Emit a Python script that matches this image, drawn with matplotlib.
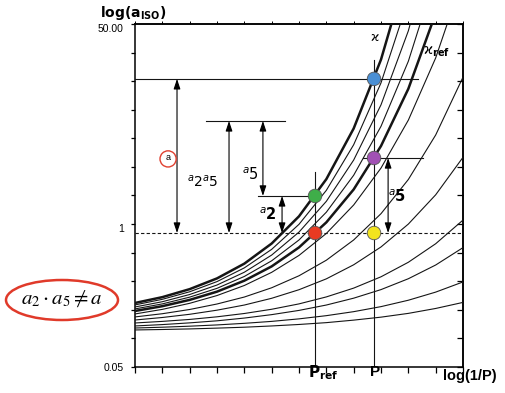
import matplotlib
matplotlib.use('Agg')
import matplotlib.pyplot as plt
from matplotlib.patches import Ellipse

plt.rcParams['font.family'] = ['Liberation Sans', 'DejaVu Sans']

# ---- data (x in tick units of log(1/P), y = log10(a_ISO)) ----
x_grid = [0, 1, 2, 3, 4, 5, 6, 7, 8, 9, 10, 11, 12]

chi_curve = [-0.690, -0.639, -0.569, -0.475, -0.346, -0.170, 0.068, 0.393, 0.836, 1.439, 2.258]
chi_ref_curve = [-0.760, -0.718, -0.663, -0.591, -0.495, -0.370, -0.204, 0.015, 0.303, 0.683, 1.183, 1.843, 2.712]
thin_curves = [
    [-0.707, -0.658, -0.592, -0.503, -0.383, -0.221, -0.002, 0.295, 0.694, 1.235, 1.965],
    [-0.725, -0.679, -0.616, -0.533, -0.421, -0.271, -0.070, 0.199, 0.560, 1.043, 1.690, 2.558],
    [-0.742, -0.698, -0.639, -0.562, -0.458, -0.321, -0.139, 0.104, 0.427, 0.855, 1.424, 2.179],
    [-0.786, -0.746, -0.693, -0.625, -0.537, -0.422, -0.274, -0.082, 0.167, 0.490, 0.909, 1.453, 2.157],
    [-0.812, -0.784, -0.747, -0.699, -0.638, -0.557, -0.452, -0.316, -0.139, 0.091, 0.390, 0.779, 1.285],
    [-0.839, -0.817, -0.789, -0.753, -0.708, -0.649, -0.574, -0.479, -0.356, -0.200, 0.000, 0.256, 0.584],
    [-0.865, -0.851, -0.834, -0.811, -0.782, -0.745, -0.698, -0.637, -0.560, -0.461, -0.334, -0.172, 0.035],
    [-0.891, -0.879, -0.864, -0.846, -0.822, -0.792, -0.755, -0.708, -0.648, -0.573, -0.478, -0.358, -0.206],
    [-0.909, -0.902, -0.893, -0.882, -0.868, -0.851, -0.829, -0.801, -0.766, -0.722, -0.666, -0.595, -0.506],
    [-0.926, -0.922, -0.917, -0.910, -0.902, -0.891, -0.878, -0.862, -0.840, -0.814, -0.781, -0.738, -0.685],
]

x_pref = 6.586
x_p = 8.745
log_a = 1.270       # blue point level
log_a2a5 = 0.902    # upper bracket level
log_a2 = 0.246      # green point level
log_a5_top = 0.578  # purple point level
log_ref = -0.078    # dashed reference level

points_x = [x_p, x_p, x_pref, x_pref, x_p]
points_y = [log_a, log_a5_top, log_a2, log_ref, log_ref]
points_c = ['#4a8fd4', '#a150b4', '#3fae49', '#e83a22', '#f2e41e']

ytick_vals = [-1.25, -1.0, -0.75, -0.5, -0.25, 0.0, 0.25, 0.5, 0.75, 1.0, 1.25, 1.5, 1.75]
ytick_labels = ['0.05', '', '', '', '', '1', '', '', '', '', '', '', '50.00']

# ---- figure ----
fig = plt.figure(figsize=(5.05, 3.93), dpi=100)
ax = fig.add_axes([135/505, 1-367/393, (463-135)/505, (367-24)/393])
ax.set_xlim(0, 12)
ax.set_ylim(-1.25, 1.75)

lc = '#151515'
ax.plot(x_grid[:len(chi_curve)], chi_curve, color=lc, lw=1.8, zorder=3)
ax.plot(x_grid[:len(chi_ref_curve)], chi_ref_curve, color=lc, lw=1.8, zorder=3)
for c in thin_curves:
    ax.plot(x_grid[:len(c)], c, color=lc, lw=0.8, zorder=3)

# reference lines
ax.plot([x_pref, x_pref], [-1.25, 0.456], color=lc, lw=0.8, zorder=3)
ax.plot([x_p, x_p], [-1.25, 1.436], color=lc, lw=0.8, zorder=3)
ax.plot([0, 10.35], [log_a, log_a], color=lc, lw=0.8, zorder=3)
ax.plot([2.60, 5.49], [log_a2a5, log_a2a5], color=lc, lw=0.8, zorder=3)
ax.plot([4.50, x_pref], [log_a2, log_a2], color=lc, lw=0.8, zorder=3)
ax.plot([8.34, 10.54], [log_a5_top, log_a5_top], color=lc, lw=0.8, zorder=3)
ax.plot([0, 12], [log_ref, log_ref], color=lc, lw=0.8, ls=(0, (3, 2)), zorder=3)

def darrow(x, y1, y2):
    ax.annotate('', xy=(x, y1), xytext=(x, y2),
                arrowprops=dict(arrowstyle='<|-|>,head_length=0.6,head_width=0.2', color='black', lw=0.8,
                                mutation_scale=10, shrinkA=0, shrinkB=0), zorder=4)

darrow(1.537, log_a, log_ref)
darrow(3.44, log_a2a5, log_ref)
darrow(4.68, log_a2a5, log_a2)
darrow(5.38, log_a2, log_ref)
darrow(9.26, log_a5_top, log_ref)

ax.scatter(points_x, points_y, s=95, c=points_c, edgecolors='#555555', linewidths=0.6, zorder=6)

# labels inside
ax.scatter([1.21], [0.570], s=135, facecolors='none', edgecolors='#e04030', linewidths=1.0, zorder=5)
ax.text(1.21, 0.578, 'a', fontsize=6.5, ha='center', va='center', zorder=6)
ax.text(2.49, 0.369, r'$^{a}2^{a}5$', fontsize=10, ha='center', va='center')
ax.text(4.21, 0.430, r'$^{a}5$', fontsize=10.5, ha='center', va='center')
ax.text(4.87, 0.080, r'$^{a}\mathbf{2}$', fontsize=10.5, ha='center', va='center')
ax.text(9.59, 0.237, r'$^{a}\mathbf{5}$', fontsize=10.5, ha='center', va='center')
ax.text(8.78, 1.628, 'ϰ', fontsize=9, ha='center', va='center', family='DejaVu Sans')
ax.text(10.55, 1.506, r'ϰ$_{\mathbf{ref}}$', fontsize=10, ha='left', va='center', family='DejaVu Sans')

# axes styling
ax.set_yticks(ytick_vals)
ax.set_yticklabels(ytick_labels, fontsize=7.5)
for lab, val in zip(ax.get_yticklabels(), ytick_vals):
    if val >= 0:
        lab.set_verticalalignment('top')
ax.set_xticks(x_grid)
ax.set_xticklabels([])
ax.tick_params(axis='y', which='major', direction='out', length=3, width=0.9, pad=5, left=True, right=False)
ax.tick_params(axis='x', which='major', direction='out', length=4, width=0.9, top=False)
ax_r = ax.secondary_yaxis('right')
ax_r.set_yticks(ytick_vals)
ax_r.set_yticklabels([])
ax_r.tick_params(direction='in', length=4, width=0.9)
ax_t = ax.secondary_xaxis('top')
ax_t.set_xticks(x_grid)
ax_t.set_xticklabels([])
ax_t.tick_params(direction='out', length=2, width=0.7)
for s in ax.spines.values():
    s.set_linewidth(1.1)
ax_r.spines['right'].set_linewidth(1.1)
ax_t.spines['top'].set_linewidth(1.1)

# outer texts
fig.text(100/505, 1-13/393, r'$\mathbf{log(a}_{\mathbf{ISO}}\mathbf{)}$', fontsize=10,
         ha='left', va='center')
fig.text(470/505, 1-376/393, 'log(1/P)', fontsize=10.5, fontweight='bold', ha='center', va='center')
fig.text(323/505, 1-373/393, r'$\mathbf{P}_{\mathbf{ref}}$', fontsize=11, ha='center', va='center')
fig.text(375/505, 1-372/393, 'P', fontsize=11, fontweight='bold', ha='center', va='center')

# red ellipse with formula
ell = Ellipse((62/505, 1-300/393), 112/505, 40/393, transform=fig.transFigure,
              fill=False, edgecolor='#e03a2a', lw=1.8)
fig.add_artist(ell)
fig.text(62/505, 1-299/393, r'$a_2 \cdot a_5 \neq a$', fontsize=15, ha='center', va='center',
         math_fontfamily='stix')

fig.savefig('out.png', dpi=100)
